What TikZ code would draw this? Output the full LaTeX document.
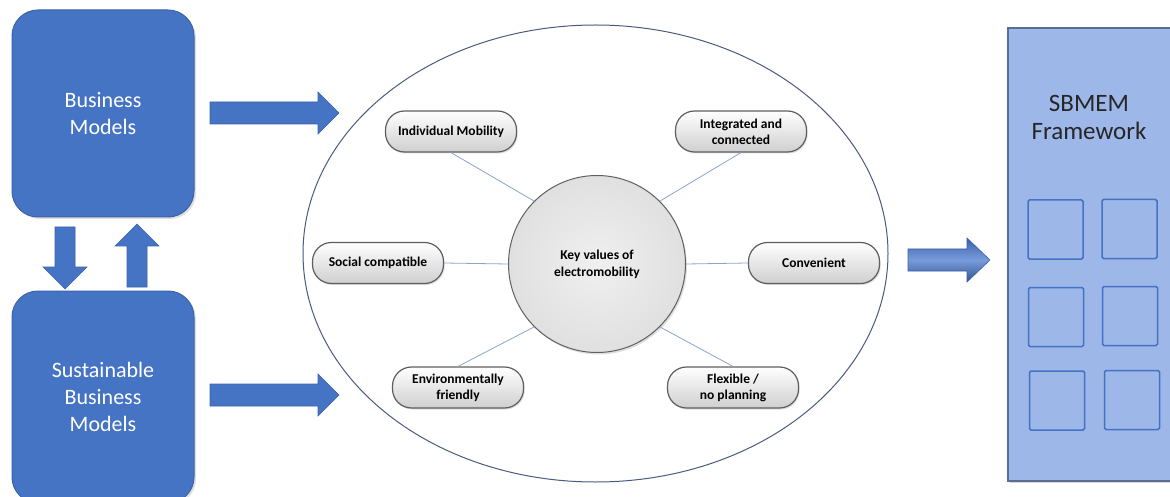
\documentclass[tikz,border=0pt]{standalone}
\usepackage{fontspec}
\setmainfont{Carlito}
\usetikzlibrary{shapes.geometric,shadows}
\definecolor{boxblue}{HTML}{4674C4}
\definecolor{boxedge}{HTML}{3A62A8}
\definecolor{fwfill}{HTML}{9DB7E9}
\definecolor{fwedge}{HTML}{5A6E94}
\definecolor{sqedge}{HTML}{4472C4}
\definecolor{spokecol}{HTML}{8EA4CC}
\definecolor{ellcol}{HTML}{4A5A80}
\definecolor{pilledge}{HTML}{5E5E5E}
\definecolor{pillbot}{HTML}{CFCFCF}
\definecolor{circfill}{HTML}{E0E0E0}
\tikzset{
  bluebox/.style={draw=boxedge, line width=1pt, fill=boxblue, rounded corners=26pt,
    minimum width=182pt, text=white, align=center,
    font=\fontsize{22}{27}\selectfont,
    drop shadow={opacity=0.25, shadow xshift=2pt, shadow yshift=-2pt}},
  blockarrow/.style={fill=boxblue, draw=boxedge, line width=0.6pt},
  pill/.style={draw=pilledge, line width=1.2pt, rounded corners=19pt,
    top color=white, bottom color=pillbot, minimum width=131pt, minimum height=41pt,
    align=center, inner sep=2pt, font=\bfseries\fontsize{13.5}{16}\selectfont,
    drop shadow={opacity=0.25, shadow xshift=1.2pt, shadow yshift=-1.5pt}},
  keycirc/.style={circle, draw=gray!75!black, line width=1pt, inner color=white!50!circfill,
    outer color=circfill, minimum size=177pt, align=center,
    font=\bfseries\fontsize{13.5}{17}\selectfont,
    drop shadow={opacity=0.25, shadow xshift=1.5pt, shadow yshift=-2pt}},
  spoke/.style={draw=spokecol, line width=0.8pt},
  fwbox/.style={draw=fwedge, line width=1.6pt, fill=fwfill, inner sep=0pt},
  fwsq/.style={draw=sqedge, line width=1.5pt, fill=fwfill, rounded corners=1.5pt,
    minimum width=55pt, minimum height=59pt, inner sep=0pt}
}
\begin{document}
\begin{tikzpicture}[x=1pt,y=-1pt]
\useasboundingbox (0,0) rectangle (1170,497);
\clip (0,0) rectangle (1170,497);

% left boxes
\node[bluebox, minimum height=207pt] (bm) at (103,113.5) {Business\\Models};
\node[bluebox, minimum height=212pt] (sbm) at (103,397) {Sustainable\\Business\\Models};

% vertical arrows between boxes
\path[blockarrow] (55,227) -- (75,227) -- (75,267) -- (87,267) -- (65,289) -- (43,267) -- (55,267) -- cycle;
\path[blockarrow] (127,287) -- (147,287) -- (147,246) -- (159,246) -- (137,224) -- (115,246) -- (127,246) -- cycle;

% horizontal arrows into the ellipse
\path[blockarrow] (210,102) -- (318,102) -- (318,92) -- (339,113) -- (318,134) -- (318,124) -- (210,124) -- cycle;
\path[blockarrow] (210,384) -- (318,384) -- (318,374) -- (339,395) -- (318,416) -- (318,406) -- (210,406) -- cycle;

% ellipse
\node[ellipse, draw=ellcol, line width=1pt, fill=white, minimum width=585pt, minimum height=457pt, inner sep=0pt] (ell) at (595.5,253.5) {};

% central circle
\node[keycirc] (kv) at (597,264) {Key values of\\electromobility};

% pills
\node[pill] (im) at (451,131.5) {Individual Mobility};
\node[pill] (ic) at (741,131.5) {Integrated and\\connected};
\node[pill] (sc) at (378,263) {Social compatible};
\node[pill] (cv) at (814,263) {Convenient};
\node[pill] (ef) at (458,387.5) {Environmentally\\friendly};
\node[pill] (fx) at (733,387.5) {Flexible /\\no planning};

% spokes
\draw[spoke] (im.south) -- (kv.135);
\draw[spoke] (ic.south) -- (kv.45);
\draw[spoke] (sc.east) -- (kv.180);
\draw[spoke] (kv.0) -- (cv.west);
\draw[spoke] (ef.north) -- (kv.225);
\draw[spoke] (kv.315) -- (fx.north);

% gradient arrow to framework
\path[draw=boxedge, line width=0.6pt, top color=boxedge, bottom color=boxedge!85!black, middle color={rgb,255:red,120;green,155;blue,220}]
  (908,249) -- (967,249) -- (967,238) -- (990,260) -- (967,282) -- (967,271) -- (908,271) -- cycle;

% framework
\node[fwbox, anchor=north west, minimum width=200pt, minimum height=453pt,
  drop shadow={opacity=0.3, shadow xshift=2pt, shadow yshift=-2pt}] (fw) at (1007,27) {};
\node[align=center, text=black!85, font=\fontsize{25}{28}\selectfont] (fwt) at (1089,117) {SBMEM\\Framework};
\node[fwsq] (s11) at (1055.5,229.5) {};
\node[fwsq] (s12) at (1129.5,229) {};
\node[fwsq] (s21) at (1056,317) {};
\node[fwsq] (s22) at (1130,316) {};
\node[fwsq] (s31) at (1057,400.5) {};
\node[fwsq] (s32) at (1132,400) {};
\end{tikzpicture}
\end{document}
